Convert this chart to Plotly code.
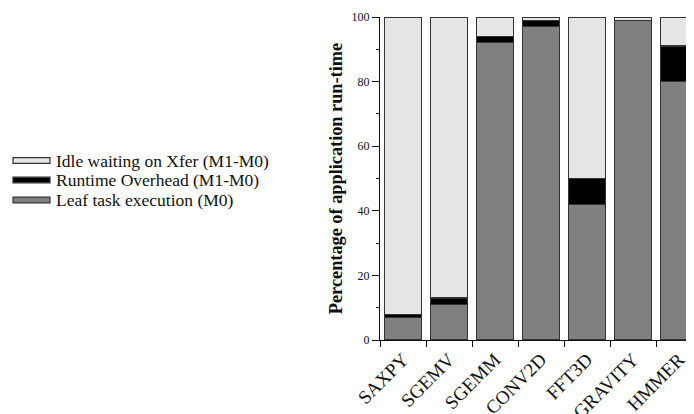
import plotly.graph_objects as go

categories = ["SAXPY", "SGEMV", "SGEMM", "CONV2D", "FFT3D", "GRAVITY", "HMMER"]
leaf = [7, 11, 92, 97, 42, 99, 80]
overhead = [1, 2, 2, 2, 8, 0, 11]
idle = [92, 87, 6, 1, 50, 1, 9]
series_names = ["Idle waiting on Xfer (M1-M0)", "Runtime Overhead (M1-M0)", "Leaf task execution (M0)"]
series_colors = ["#e5e5e5", "#000000", "#808080"]
y_ticks = [0, 20, 40, 60, 80, 100]

FONT = "Liberation Serif"

fig = go.Figure()
for name, vals, col in [(series_names[2], leaf, series_colors[2]),
                        (series_names[1], overhead, series_colors[1]),
                        (series_names[0], idle, series_colors[0])]:
    fig.add_trace(go.Bar(x=categories, y=vals, name=name, marker_color=col,
                         marker_line_color="#333333", marker_line_width=1.2,
                         width=0.8, showlegend=False, cliponaxis=False))

# custom legend: thin bar swatches + labels (page pixel positions)
legend_y = [160.5, 180, 200]
for i, (name, col) in enumerate(zip(series_names, series_colors)):
    yc = 1 - (legend_y[i] - 17) / 323
    h = 2.8 / 323
    fig.add_shape(type="rect", xref="paper", yref="paper",
                  x0=(13 - 380) / 314, x1=(50 - 380) / 314, y0=yc - h, y1=yc + h,
                  fillcolor=col, line=dict(color="#333333", width=1.2))
    fig.add_annotation(text=name, xref="paper", yref="paper",
                       x=(54 - 380) / 314, y=yc, xanchor="left", yanchor="middle",
                       showarrow=False, font=dict(family=FONT, size=17.5, color="#111"))

# page has an 8px body margin; compensate in the figure size/margins
fig.update_layout(
    barmode="stack",
    width=686, height=406,
    margin=dict(l=372, r=0, t=9, b=74, autoexpand=False),
    paper_bgcolor="white", plot_bgcolor="white",
    font=dict(family=FONT, color="#111"),
    bargap=0.2,
)
fig.update_xaxes(type="category", range=[-0.5, 6.326], tickson="boundaries",
                 ticks="outside", ticklen=6, tickcolor="#111", tickwidth=1.2,
                 showline=True, linecolor="#111", linewidth=1.2,
                 tickangle=-45, tickfont=dict(family=FONT, size=19),
                 showgrid=False, zeroline=False, automargin=False)
fig.update_yaxes(range=[0, 100], tickvals=y_ticks, ticks="outside", ticklen=7,
                 tickcolor="#111", tickwidth=1.2,
                 minor=dict(tickvals=[10, 30, 50, 70, 90], ticks="outside", ticklen=3,
                            tickcolor="#111", tickwidth=1, showgrid=False),
                 showline=True, linecolor="#111", linewidth=1.2,
                 tickfont=dict(family=FONT, size=12),
                 title=dict(text="<b>Percentage of application run-time</b>",
                            font=dict(family=FONT, size=18.3), standoff=4),
                 showgrid=False, zeroline=False, automargin=False)

fig.write_html("out.html")
